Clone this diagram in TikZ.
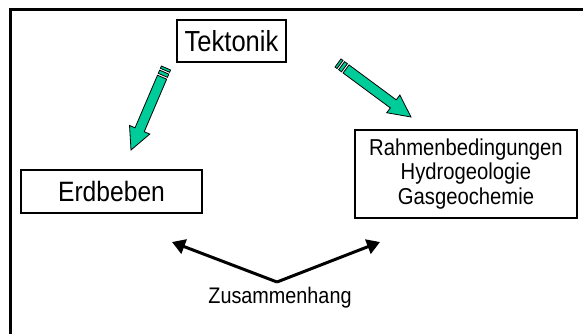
\documentclass[tikz,border=0pt]{standalone}
\usepackage{fontspec}
\setmainfont{Liberation Sans}
\newfontfamily\narrowsans[FakeStretch=0.88]{Liberation Sans}
\usetikzlibrary{arrows.meta}
\definecolor{arrowgreen}{RGB}{0,204,153}
\newcommand\stripedarrow[4]{%
  \pgfmathsetmacro\gdx{#3-#1}\pgfmathsetmacro\gdy{#4-#2}%
  \pgfmathsetmacro\glen{veclen(\gdx,\gdy)}%
  \pgfmathsetmacro\gang{-atan2(\gdy,\gdx)}%
  \pgfmathsetmacro\gneck{\glen-22}%
  \begin{scope}[shift={(#1,#2)}, rotate=\gang]
    \filldraw[greenarrow] (0,-5) rectangle (2.5,5);
    \filldraw[greenarrow] (4.5,-5) rectangle (8,5);
    \filldraw[greenarrow] (10,-5) -- (\gneck,-5) -- (\gneck,-11) -- (\glen,0)
      -- (\gneck,11) -- (\gneck,5) -- (10,5) -- cycle;
  \end{scope}}
\tikzset{
  box/.style={draw, line width=1.8pt, inner sep=0pt, align=center},
  greenarrow/.style={fill=arrowgreen, draw=black, line width=0.8pt, line join=miter},
  blackarrow/.style={line width=3pt, -{Triangle[length=13pt,width=15pt]}},
}
\begin{document}
\begin{tikzpicture}[x=1pt,y=-1pt]
  \useasboundingbox (0,0) rectangle (583,334);
  \fill[white] (0,0) rectangle (583,334);
  % outer frame (only top and left edges visible)
  \draw[line width=3pt] (10,334) -- (10,10) -- (583,10);
  % boxes
  \node[box, minimum width=109pt, minimum height=42pt, font=\narrowsans\fontsize{29}{30}\selectfont] (tek) at (231.5,41) {Tektonik};
  \node[box, minimum width=181pt, minimum height=43pt, font=\narrowsans\fontsize{28}{30}\selectfont] (erd) at (111.5,191.5) {Erdbeben};
  \node[box, minimum width=222pt, minimum height=88pt, font=\narrowsans\fontsize{23}{24.5}\selectfont] (rah) at (466,174)
    {Rahmenbedingungen\\Hydrogeologie\\Gasgeochemie};
  % green striped arrows
  \stripedarrow{166}{68}{131}{150}
  \stripedarrow{338}{63}{411}{117}
  % Zusammenhang
  \coordinate (v) at (277,282);
  \coordinate (lt) at (172,242);
  \coordinate (rt) at (380,242);
  \draw[blackarrow] (v) -- (lt);
  \draw[blackarrow] (v) -- (rt);
  \node[font=\narrowsans\fontsize{22.5}{24}\selectfont] (zus) at (280,298) {Zusammenhang};
\end{tikzpicture}
\end{document}
